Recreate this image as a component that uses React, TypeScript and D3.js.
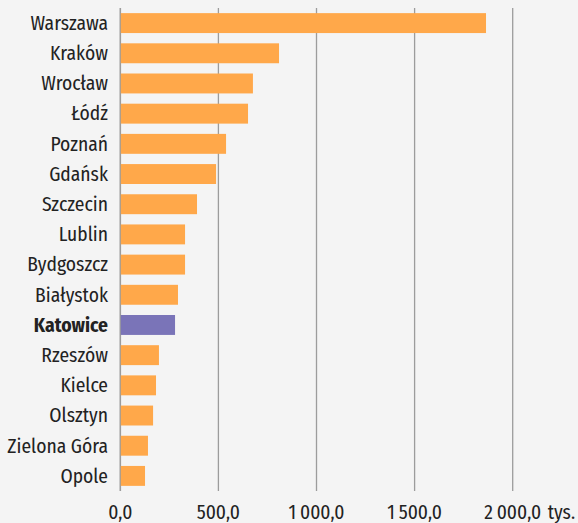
import React from "react";
import * as d3 from "d3";

const cities = [
  "Warszawa", "Kraków", "Wrocław", "Łódź", "Poznań", "Gdańsk", "Szczecin", "Lublin",
  "Bydgoszcz", "Białystok", "Katowice", "Rzeszów", "Kielce", "Olsztyn", "Zielona Góra", "Opole",
];
const values = [1864, 809, 676, 651, 539, 488, 391, 330, 330, 294, 279, 197, 182, 167, 141, 126];
const highlight = "Katowice";
const ticks = [0, 500, 1000, 1500, 2000];
const unit = "tys.";

const W = 578;
const H = 523;
const FONT = "'Fira Sans Condensed', 'Liberation Sans Narrow', 'DejaVu Sans Condensed', Roboto, sans-serif";

const pl = d3.formatLocale({ decimal: ",", thousands: "\u2009", grouping: [3], currency: ["", " zł"] });
const fmt = pl.format(",.1f");

export default function App() {
  const x = d3.scaleLinear().domain([0, 2000]).range([120.3, 512.7]);
  const y = d3.scaleBand<string>().domain(cities).range([8, 491]).paddingInner(0.34).paddingOuter(0.17);
  return (
    <svg width={W} height={H} style={{ position: "absolute", left: 0, top: 0, fontFamily: FONT }}>
      <rect width={W} height={H} fill="#f4f4f4" />
      {ticks.map((t) => (
        <line key={t} x1={x(t)} x2={x(t)} y1={8} y2={491} stroke="#9c9c9c" strokeWidth={t === 0 ? 1.6 : 1.3} />
      ))}
      {cities.map((c, i) => (
        <g key={c}>
          <rect
            x={x(0) + 0.5}
            y={y(c)}
            width={x(values[i]) - x(0) - 0.5}
            height={y.bandwidth()}
            fill={c === highlight ? "#7a74b8" : "#ffa84a"}
          />
          <text
            x={108}
            y={(y(c) ?? 0) + y.bandwidth() / 2}
            dy="0.35em"
            textAnchor="end"
            fontSize={19.5}
            fontWeight={c === highlight ? "bold" : "normal"}
            fill="#222"
          >
            {c}
          </text>
        </g>
      ))}
      {ticks.map((t) => (
        <text key={"l" + t} x={x(t)} y={519} textAnchor="middle" fontSize={19.5} fill="#222">
          {fmt(t)}
        </text>
      ))}
      <text x={x(2000) + 35} y={519} textAnchor="start" fontSize={19.5} fill="#222">
        {unit}
      </text>
    </svg>
  );
}
